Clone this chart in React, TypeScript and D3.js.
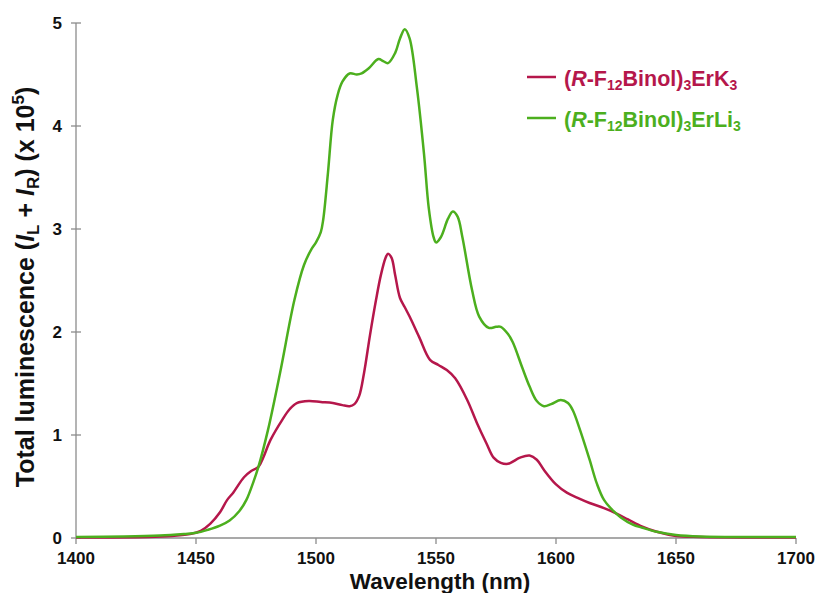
import React from "react";
import * as d3 from "d3";

const xTicks = [1400, 1450, 1500, 1550, 1600, 1650, 1700];
const yTicks = [0, 1, 2, 3, 4, 5];

const greenX = [1400, 1420, 1435, 1445, 1450, 1455, 1460, 1464, 1468, 1471, 1474, 1476, 1480, 1485, 1491, 1495, 1498, 1500, 1502, 1503, 1505, 1507, 1509, 1511, 1514, 1517, 1519, 1522, 1526, 1528, 1530, 1533, 1535, 1537, 1539, 1542, 1545, 1547, 1549, 1550, 1552, 1555, 1557, 1559, 1561, 1565, 1568, 1572, 1575, 1577, 1580, 1582, 1586, 1589, 1592, 1595, 1598, 1602, 1605, 1607, 1610, 1614, 1617, 1620, 1624, 1627, 1632, 1636, 1642, 1650, 1660, 1680, 1700];
const greenY = [0.01, 0.015, 0.025, 0.04, 0.05, 0.08, 0.12, 0.17, 0.26, 0.37, 0.55, 0.69, 1.05, 1.6, 2.31, 2.65, 2.8, 2.87, 2.97, 3.09, 3.55, 4.06, 4.3, 4.43, 4.51, 4.5, 4.51, 4.56, 4.65, 4.63, 4.61, 4.71, 4.85, 4.94, 4.85, 4.38, 3.73, 3.2, 2.92, 2.87, 2.92, 3.1, 3.17, 3.12, 2.92, 2.41, 2.15, 2.04, 2.05, 2.05, 1.98, 1.9, 1.65, 1.47, 1.33, 1.28, 1.3, 1.34, 1.31, 1.24, 1.05, 0.76, 0.53, 0.37, 0.26, 0.2, 0.13, 0.1, 0.06, 0.03, 0.015, 0.01, 0.01];

const redX = [1400, 1430, 1440, 1448, 1452, 1456, 1460, 1463, 1465.5, 1470, 1473, 1476, 1478, 1481, 1486, 1489, 1492, 1497, 1502, 1507, 1511, 1514, 1516, 1518, 1520, 1522.5, 1525, 1527, 1529, 1530, 1531.5, 1533, 1535, 1537, 1539, 1543, 1547.5, 1551, 1554.5, 1558, 1563, 1567, 1571, 1574, 1577, 1580, 1585, 1589, 1592, 1595, 1600, 1604.5, 1609, 1614, 1620, 1625, 1630, 1636, 1642, 1650, 1660, 1700];
const redY = [0.005, 0.01, 0.02, 0.04, 0.07, 0.14, 0.25, 0.37, 0.44, 0.59, 0.65, 0.69, 0.78, 0.95, 1.15, 1.25, 1.31, 1.33, 1.32, 1.31, 1.29, 1.28, 1.3, 1.38, 1.6, 1.97, 2.31, 2.55, 2.72, 2.76, 2.72, 2.55, 2.33, 2.24, 2.15, 1.95, 1.73, 1.68, 1.63, 1.55, 1.34, 1.12, 0.92, 0.78, 0.73, 0.72, 0.78, 0.8, 0.76, 0.66, 0.52, 0.44, 0.39, 0.34, 0.29, 0.24, 0.18, 0.11, 0.06, 0.02, 0.01, 0.005];

const RED = "#b5174b";
const GREEN = "#4caf1e";
const AXIS = "#8c8c8c";
const FONT = "'Liberation Sans', Arial, sans-serif";

export default function App() {
  const W = 816, H = 593;
  const x = d3.scaleLinear().domain([1400, 1700]).range([76, 796]);
  const y = d3.scaleLinear().domain([0, 5]).range([538, 23]);
  const line = d3
    .line<[number, number]>()
    .x((d) => x(d[0]))
    .y((d) => y(d[1]))
    .curve(d3.curveCatmullRom.alpha(0.5));
  const green = greenX.map((v, i) => [v, greenY[i]] as [number, number]);
  const red = redX.map((v, i) => [v, redY[i]] as [number, number]);

  return (
    <svg width={W} height={H} style={{ position: "absolute", left: 0, top: 0, background: "#fff" }} fontFamily={FONT}>
      <rect width={W} height={H} fill="#fff" />
      {/* axes */}
      <line x1={x(1400)} x2={x(1700)} y1={y(0)} y2={y(0)} stroke={AXIS} strokeWidth={1.3} />
      <line x1={x(1400)} x2={x(1400)} y1={y(0)} y2={y(5)} stroke={AXIS} strokeWidth={1.3} />
      {xTicks.map((t) => (
        <g key={"x" + t}>
          <line x1={x(t)} x2={x(t)} y1={y(0)} y2={y(0) + 6} stroke={AXIS} strokeWidth={1.3} />
          <text x={x(t)} y={564} textAnchor="middle" fontSize={17} fontWeight="bold" fill="#111">
            {t}
          </text>
        </g>
      ))}
      {yTicks.map((t) => (
        <g key={"y" + t}>
          <line x1={x(1400) - 5} x2={x(1400) + 5} y1={y(t)} y2={y(t)} stroke={AXIS} strokeWidth={1.3} />
          <text x={62} y={y(t) + 6} textAnchor="end" fontSize={17} fontWeight="bold" fill="#111">
            {t}
          </text>
        </g>
      ))}
      {/* curves */}
      <path d={line(red) || ""} fill="none" stroke={RED} strokeWidth={2.5} />
      <path d={line(green) || ""} fill="none" stroke={GREEN} strokeWidth={2.5} />
      {/* axis titles */}
      <text x={440} y={589} textAnchor="middle" fontSize={22.5} fontWeight="bold" fill="#111">
        Wavelength (nm)
      </text>
      <text transform="translate(34,287) rotate(-90)" textAnchor="middle" fontSize={25} fontWeight="bold" fill="#111">
        <tspan>Total luminescence  (</tspan>
        <tspan fontStyle="italic">I</tspan>
        <tspan fontSize={17} dy={5}>L</tspan>
        <tspan dy={-5}> + </tspan>
        <tspan fontStyle="italic">I</tspan>
        <tspan fontSize={17} dy={5}>R</tspan>
        <tspan dy={-5}>) (x 10</tspan>
        <tspan fontSize={17} dy={-10}>5</tspan>
        <tspan dy={10}>)</tspan>
      </text>
      {/* legend */}
      <line x1={527} x2={556} y1={77} y2={77} stroke={RED} strokeWidth={2.5} />
      <text x={564} y={86} fontSize={21.5} fontWeight="bold" fill={RED}>
        <tspan>(</tspan>
        <tspan fontStyle="italic">R</tspan>
        <tspan>-F</tspan>
        <tspan fontSize={14} dy={4}>12</tspan>
        <tspan dy={-4}>Binol)</tspan>
        <tspan fontSize={14} dy={4}>3</tspan>
        <tspan dy={-4}>ErK</tspan>
        <tspan fontSize={14} dy={4}>3</tspan>
      </text>
      <line x1={527} x2={556} y1={118} y2={118} stroke={GREEN} strokeWidth={2.5} />
      <text x={564} y={127} fontSize={21.5} fontWeight="bold" fill={GREEN}>
        <tspan>(</tspan>
        <tspan fontStyle="italic">R</tspan>
        <tspan>-F</tspan>
        <tspan fontSize={14} dy={4}>12</tspan>
        <tspan dy={-4}>Binol)</tspan>
        <tspan fontSize={14} dy={4}>3</tspan>
        <tspan dy={-4}>ErLi</tspan>
        <tspan fontSize={14} dy={4}>3</tspan>
      </text>
    </svg>
  );
}
